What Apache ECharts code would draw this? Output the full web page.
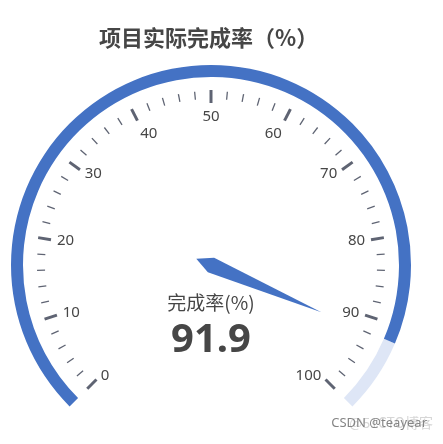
<!DOCTYPE html>
<html>
<head>
<meta charset="utf-8">
<script src="https://cdn.jsdelivr.net/npm/echarts@6/dist/echarts.min.js"></script>
<style>
html,body{margin:0;padding:0;background:#fff;}
#main{width:443px;height:444px;}
</style>
</head>
<body>
<div id="main"></div>
<script>
var chartTitle = '项目实际完成率（%）';
var gaugeName = '完成率(%)';
var gaugeValue = 91.9;
var gaugeMin = 0;
var gaugeMax = 100;
var splitCount = 10;

var blue = '#4472c4';
var lightBlue = '#dee6f6';
var tickColor = '#5f6473';

var chart = echarts.init(document.getElementById('main'));
chart.setOption({
  backgroundColor: '#fff',
  title: {
    text: chartTitle,
    left: 94,
    top: 22,
    textStyle: {
      fontFamily: 'Noto Sans CJK SC',
      fontSize: 22,
      fontWeight: 'bold',
      color: '#464646'
    }
  },
  graphic: [
    {
      type: 'text', right: 10, top: 416, silent: true,
      style: { text: '@51CTO博客', fill: '#d6d6d6', font: '14px "Noto Sans CJK SC"' }
    },
    {
      type: 'text', right: 16, top: 417, silent: true,
      style: { text: 'CSDN @teayear', fill: '#858585', font: '13px "Noto Sans"' }
    }
  ],
  series: [{
    type: 'gauge',
    center: [211, 265],
    radius: 200,
    min: gaugeMin,
    max: gaugeMax,
    splitNumber: splitCount,
    startAngle: 225,
    endAngle: -45,
    axisLine: {
      lineStyle: {
        width: 12,
        color: [[gaugeValue / gaugeMax, blue], [1, lightBlue]]
      }
    },
    splitLine: {
      distance: 13,
      length: 13,
      lineStyle: { width: 3, color: tickColor }
    },
    axisTick: {
      distance: 14,
      length: 8,
      splitNumber: 5,
      lineStyle: { width: 1.3, color: tickColor }
    },
    axisLabel: {
      distance: 18,
      fontSize: 15,
      color: '#464646',
      fontFamily: 'Noto Sans'
    },
    pointer: {
      icon: 'path://M8,136 L0,120 L8,0 L16,120 Z',
      width: 16,
      length: 136,
      offsetCenter: [0, 16],
      itemStyle: { color: blue }
    },
    anchor: { show: false },
    progress: { show: false },
    title: {
      offsetCenter: [0, '19%'],
      fontSize: 19,
      color: '#464646',
      fontFamily: 'Noto Sans CJK SC'
    },
    detail: {
      offsetCenter: [0, '38%'],
      fontSize: 40,
      fontWeight: 'bold',
      color: '#464646',
      fontFamily: 'Noto Sans',
      formatter: '{value}'
    },
    data: [{ value: gaugeValue, name: gaugeName }]
  }]
});
</script>
</body>
</html>
